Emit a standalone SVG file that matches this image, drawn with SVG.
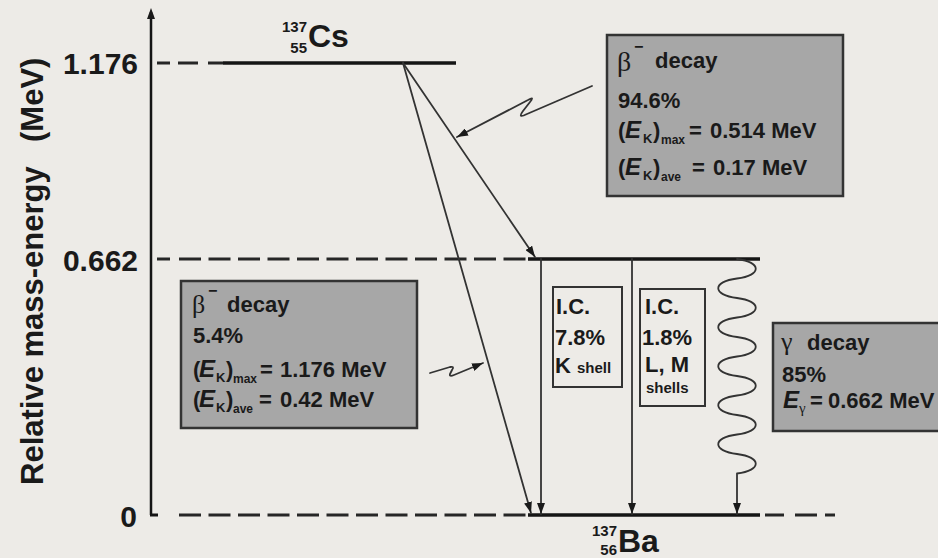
<svg xmlns="http://www.w3.org/2000/svg" width="938" height="558" viewBox="0 0 938 558">
<defs>
<style>
.t{font-family:"Liberation Sans",Arial,sans-serif;font-weight:bold;fill:#1a1a1a;font-size:22px}
.g{font-family:"Liberation Serif","Times New Roman",serif;font-weight:normal;fill:#1a1a1a}
.big{font-size:30px}
.nuc{font-size:32px}
.iso{font-size:15px}
.sub{font-size:12px}
.subk{font-size:13px}
.ek{font-size:24px;font-style:italic}
.lvl{stroke:#151515;stroke-width:3.5;fill:none}
.dash{stroke:#262626;stroke-width:3;fill:none;stroke-dasharray:22 7.5}
.conn{stroke:#333;stroke-width:1.8;fill:none;stroke-linejoin:round;stroke-linecap:round}
.box{fill:#a7a7a7;stroke:#333;stroke-width:2.5}
.ic{fill:none;stroke:#333;stroke-width:2}
</style>
<marker id="ah" viewBox="0 0 11 8" refX="11" refY="4" markerWidth="11" markerHeight="8" markerUnits="userSpaceOnUse" orient="auto">
<path d="M0,0 L11,4 L0,8 z" fill="#1a1a1a"/>
</marker>
</defs>
<rect width="938" height="558" fill="#edebe7"/>

<g id="axis">
<line x1="151" y1="12" x2="151" y2="515" class="lvl" style="stroke-width:2.5"/>
<path d="M147,19 L151,8 L155,19 z" fill="#1a1a1a"/>
<line x1="150" y1="515" x2="158" y2="515" class="lvl" style="stroke-width:3"/>
<text transform="translate(43,485) rotate(-90)" class="t" style="font-size:31px">Relative mass-energy<tspan x="343">(MeV)</tspan></text>
<text x="138" y="74" class="t big" text-anchor="end">1.176</text>
<text x="138" y="271" class="t big" text-anchor="end">0.662</text>
<text x="137" y="527" class="t big" text-anchor="end">0</text>
</g>

<g id="cs-level">
<path d="M157,63 H170 M178,63 H198 M208,63 H223" class="dash" style="stroke-dasharray:none"/>
<line x1="223" y1="63" x2="456" y2="63" class="lvl"/>
<text x="307" y="32" class="t iso" text-anchor="end">137</text>
<text x="307" y="53" class="t iso" text-anchor="end">55</text>
<text x="308" y="47" class="t nuc">Cs</text>
</g>

<g id="excited-level">
<line x1="157" y1="259" x2="170" y2="259" class="dash" style="stroke-dasharray:none"/>
<line x1="179" y1="259" x2="528" y2="259" class="dash"/>
<line x1="528" y1="259" x2="760" y2="259" class="lvl"/>
</g>

<g id="ba-level">
<line x1="179" y1="515" x2="528" y2="515" class="dash"/>
<line x1="528" y1="515" x2="760" y2="515" class="lvl"/>
<path d="M765,515 H784 M795,515 H817 M825,515 H835" class="dash" style="stroke-dasharray:none"/>
<text x="617" y="536" class="t iso" text-anchor="end">137</text>
<text x="617" y="555" class="t iso" text-anchor="end">56</text>
<text x="618" y="552" class="t nuc">Ba</text>
</g>

<g id="box-beta-94">
<rect x="607" y="35" width="236" height="161" class="box"/>
<text x="617" y="71" class="g" style="font-size:28px">β</text>
<text x="634" y="52" class="t" style="font-size:16px">−</text>
<text x="655" y="68" class="t">decay</text>
<text x="618" y="108" class="t">94.6%</text>
<text y="138" class="t"><tspan x="618">(</tspan><tspan x="625" class="ek">E</tspan><tspan x="643" dy="5" class="subk">K</tspan><tspan x="653" dy="-5">)</tspan><tspan x="661" dy="6" class="sub">max</tspan><tspan x="689" dy="-6">=</tspan><tspan x="710">0.514 MeV</tspan></text>
<text y="175" class="t"><tspan x="618">(</tspan><tspan x="625" class="ek">E</tspan><tspan x="643" dy="5" class="subk">K</tspan><tspan x="653" dy="-5">)</tspan><tspan x="661" dy="6" class="sub">ave</tspan><tspan x="692" dy="-6">=</tspan><tspan x="713">0.17 MeV</tspan></text>
</g>

<g id="box-beta-5">
<rect x="181" y="281" width="236" height="147" class="box"/>
<text x="192" y="313" class="g" style="font-size:26px">β</text>
<text x="208" y="296" class="t" style="font-size:16px">−</text>
<text x="227" y="312" class="t">decay</text>
<text x="193" y="343" class="t">5.4%</text>
<text y="377" class="t"><tspan x="193">(</tspan><tspan x="199" class="ek">E</tspan><tspan x="216" dy="5" class="subk">K</tspan><tspan x="226" dy="-5">)</tspan><tspan x="233" dy="6" class="sub">max</tspan><tspan x="260" dy="-6">=</tspan><tspan x="280">1.176 MeV</tspan></text>
<text y="407" class="t"><tspan x="193">(</tspan><tspan x="199" class="ek">E</tspan><tspan x="216" dy="5" class="subk">K</tspan><tspan x="226" dy="-5">)</tspan><tspan x="233" dy="6" class="sub">ave</tspan><tspan x="259" dy="-6">=</tspan><tspan x="280">0.42 MeV</tspan></text>
</g>

<g id="box-ic-k">
<rect x="553" y="287" width="69" height="100" class="ic"/>
<text x="556" y="314" class="t">I.C.</text>
<text x="555" y="345" class="t">7.8%</text>
<text x="555" y="373" class="t">K<tspan x="577" style="font-size:15px">shell</tspan></text>
</g>

<g id="box-ic-lm">
<rect x="640" y="289" width="65" height="117" class="ic"/>
<text x="645" y="314" class="t">I.C.</text>
<text x="642" y="345" class="t">1.8%</text>
<text x="645" y="372" class="t">L, M</text>
<text x="646" y="393" class="t" style="font-size:15px">shells</text>
</g>

<g id="box-gamma">
<rect x="773" y="323" width="175" height="108" class="box"/>
<text x="781" y="350" class="g" style="font-size:26px">γ</text>
<text x="807" y="350" class="t">decay</text>
<text x="782" y="382" class="t">85%</text>
<text y="408" class="t"><tspan x="783" class="ek">E</tspan><tspan x="799" dy="5" class="g" style="font-size:15px">γ</tspan><tspan x="810" dy="-5">=</tspan><tspan x="828">0.662 MeV</tspan></text>
</g>

<g id="connectors">
<line x1="403" y1="63" x2="535" y2="257" class="conn" marker-end="url(#ah)"/>
<line x1="403" y1="63" x2="531" y2="513" class="conn" marker-end="url(#ah)"/>
<line x1="541" y1="259" x2="541" y2="514" class="conn" marker-end="url(#ah)"/>
<line x1="632" y1="259" x2="632" y2="514" class="conn" marker-end="url(#ah)"/>
<path d="M737,259 C762,262 762,275.5 737,278.5 C712,281.5 712,295 737,298 C762,301 762,314.5 737,317.5 C712,320.5 712,334 737,337 C762,340 762,353.5 737,356.5 C712,359.5 712,373 737,376 C762,379 762,392.5 737,395.5 C712,398.5 712,412 737,415 C762,418 762,431.5 737,434.5 C712,437.5 712,451 737,454 C762,457 762,470.5 737,473.5 L737,514" class="conn" marker-end="url(#ah)"/>
<path d="M592,86 L527,114 Q517,119 523,111 L530,102 Q535,96 528,100 L457,137" class="conn" marker-end="url(#ah)"/>
<path d="M430,373 L450,367 Q455,366 452,370 L450,374 Q449,377 454,375 L483,363" class="conn" marker-end="url(#ah)"/>
</g>
</svg>
